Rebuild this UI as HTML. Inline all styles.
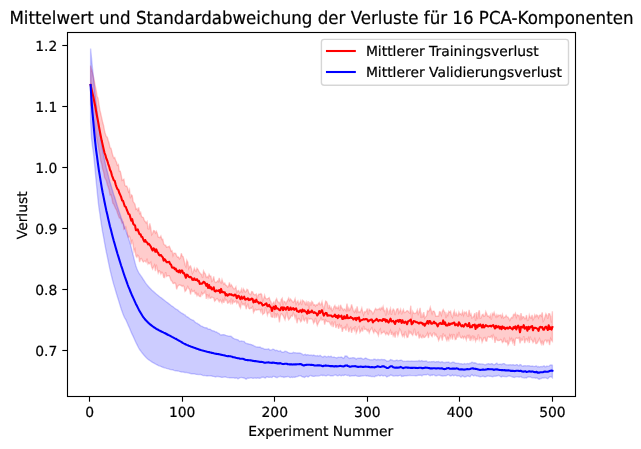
<!DOCTYPE html>
<html lang="de"><head><meta charset="utf-8"><title>Verluste PCA</title>
<style>html,body{margin:0;padding:0;background:#fff}svg{display:block}</style></head>
<body>
<svg width="641" height="449" viewBox="0 0 641 449">
<rect width="641" height="449" fill="#fff"/>
<clipPath id="c"><rect x="67.5" y="32.5" width="508.0" height="364.0"/></clipPath>
<g clip-path="url(#c)" stroke-linejoin="round">
<polygon points="90.6,65.6 91.5,69.3 92.4,72.2 93.4,77.0 94.3,80.9 95.2,85.6 96.1,89.9 97.1,96.4 98.0,98.1 98.9,104.1 99.9,110.1 100.8,113.9 101.7,117.9 102.6,122.0 103.6,125.6 104.5,130.4 105.4,134.1 106.3,136.6 107.3,137.3 108.2,140.5 109.1,143.2 110.0,147.7 111.0,148.2 111.9,151.8 112.8,155.6 113.7,157.9 114.7,157.5 115.6,160.2 116.5,162.1 117.4,165.3 118.4,164.5 119.3,171.1 120.2,171.1 121.1,174.7 122.1,180.3 123.0,179.7 123.9,179.3 124.8,185.2 125.8,186.2 126.7,186.0 127.6,188.0 128.5,191.7 129.5,189.6 130.4,198.3 131.3,194.7 132.2,195.5 133.2,201.7 134.1,202.9 135.0,204.2 135.9,209.3 136.9,208.6 137.8,210.4 138.7,207.4 139.6,213.4 140.6,212.3 141.5,216.5 142.4,217.1 143.3,217.6 144.3,220.3 145.2,221.5 146.1,222.9 147.1,221.6 148.0,228.6 148.9,228.8 149.8,223.4 150.8,228.2 151.7,234.7 152.6,233.5 153.5,230.5 154.5,230.8 155.4,232.9 156.3,231.3 157.2,233.3 158.2,237.0 159.1,237.3 160.0,237.7 160.9,236.0 161.9,239.5 162.8,239.3 163.7,243.9 164.6,244.9 165.6,245.2 166.5,247.1 167.4,246.9 168.3,246.8 169.3,246.2 170.2,248.3 171.1,251.0 172.0,250.7 173.0,255.5 173.9,253.0 174.8,253.3 175.7,253.4 176.7,255.9 177.6,257.2 178.5,257.0 179.4,258.8 180.4,257.9 181.3,253.3 182.2,256.1 183.1,256.7 184.1,260.5 185.0,264.8 185.9,266.8 186.8,260.2 187.8,262.1 188.7,268.5 189.6,266.5 190.5,265.9 191.5,268.7 192.4,273.5 193.3,271.8 194.3,268.3 195.2,270.5 196.1,271.3 197.0,268.3 198.0,269.6 198.9,271.4 199.8,272.7 200.7,273.9 201.7,274.5 202.6,278.0 203.5,271.0 204.4,272.7 205.4,274.1 206.3,277.5 207.2,276.6 208.1,277.8 209.1,274.4 210.0,276.1 210.9,276.2 211.8,281.3 212.8,280.4 213.7,276.5 214.6,281.4 215.5,282.5 216.5,282.3 217.4,280.8 218.3,281.7 219.2,278.0 220.2,281.9 221.1,283.0 222.0,279.5 222.9,282.4 223.9,284.2 224.8,283.1 225.7,285.4 226.6,285.5 227.6,287.1 228.5,286.5 229.4,282.4 230.3,286.1 231.3,284.7 232.2,286.3 233.1,287.9 234.0,289.0 235.0,288.5 235.9,286.9 236.8,292.5 237.8,290.9 238.7,290.5 239.6,292.9 240.5,291.8 241.5,289.1 242.4,293.2 243.3,288.8 244.2,290.2 245.2,292.0 246.1,291.6 247.0,289.3 247.9,289.9 248.9,293.2 249.8,294.0 250.7,294.6 251.6,291.5 252.6,291.8 253.5,294.1 254.4,294.7 255.3,294.7 256.3,293.9 257.2,298.3 258.1,295.3 259.0,294.0 260.0,294.4 260.9,293.5 261.8,294.8 262.7,301.0 263.7,298.8 264.6,295.3 265.5,298.3 266.4,298.9 267.4,298.8 268.3,298.3 269.2,297.6 270.1,300.5 271.1,302.0 272.0,306.2 272.9,303.2 273.8,301.9 274.8,304.7 275.7,300.2 276.6,298.7 277.5,301.1 278.5,302.7 279.4,302.4 280.3,304.7 281.2,299.6 282.2,298.3 283.1,305.4 284.0,301.2 285.0,301.7 285.9,304.0 286.8,301.8 287.7,300.1 288.7,298.0 289.6,300.6 290.5,299.0 291.4,300.1 292.4,301.5 293.3,302.4 294.2,301.1 295.1,298.7 296.1,304.0 297.0,302.2 297.9,300.9 298.8,304.3 299.8,302.9 300.7,300.8 301.6,305.1 302.5,300.2 303.5,301.0 304.4,302.0 305.3,304.3 306.2,302.0 307.2,305.5 308.1,301.1 309.0,309.1 309.9,301.8 310.9,305.7 311.8,301.4 312.7,302.4 313.6,305.1 314.6,304.6 315.5,306.1 316.4,304.7 317.3,305.1 318.3,303.7 319.2,302.6 320.1,304.7 321.0,304.7 322.0,301.7 322.9,305.9 323.8,309.1 324.7,305.3 325.7,301.1 326.6,301.8 327.5,304.0 328.4,309.0 329.4,304.9 330.3,308.7 331.2,307.5 332.2,310.8 333.1,309.3 334.0,306.9 334.9,305.5 335.9,308.3 336.8,307.2 337.7,308.4 338.6,306.4 339.6,310.9 340.5,304.8 341.4,307.3 342.3,308.5 343.3,310.3 344.2,308.9 345.1,309.4 346.0,310.8 347.0,303.5 347.9,311.4 348.8,308.1 349.7,310.2 350.7,308.3 351.6,304.4 352.5,307.8 353.4,311.0 354.4,312.3 355.3,309.6 356.2,311.7 357.1,306.4 358.1,312.2 359.0,311.6 359.9,312.4 360.8,310.9 361.8,308.0 362.7,312.1 363.6,314.8 364.5,311.7 365.5,312.2 366.4,310.9 367.3,308.5 368.2,314.6 369.2,309.3 370.1,310.3 371.0,310.8 371.9,311.8 372.9,313.9 373.8,312.5 374.7,310.0 375.6,308.5 376.6,309.7 377.5,309.5 378.4,309.4 379.4,308.3 380.3,309.7 381.2,307.7 382.1,309.0 383.1,306.5 384.0,310.8 384.9,310.5 385.8,315.7 386.8,307.6 387.7,310.8 388.6,314.7 389.5,310.8 390.5,308.4 391.4,314.9 392.3,311.1 393.2,309.1 394.2,310.4 395.1,315.0 396.0,311.6 396.9,309.0 397.9,308.6 398.8,313.1 399.7,311.2 400.6,309.2 401.6,314.3 402.5,311.5 403.4,309.5 404.3,312.6 405.3,312.4 406.2,311.5 407.1,310.6 408.0,311.1 409.0,312.4 409.9,313.2 410.8,305.7 411.7,319.0 412.7,311.4 413.6,312.9 414.5,313.5 415.4,313.4 416.4,312.6 417.3,310.1 418.2,314.1 419.1,312.2 420.1,307.9 421.0,318.0 421.9,314.2 422.9,317.6 423.8,312.0 424.7,318.2 425.6,316.9 426.6,315.8 427.5,310.8 428.4,311.5 429.3,310.5 430.3,307.2 431.2,310.5 432.1,313.7 433.0,311.1 434.0,311.1 434.9,312.9 435.8,316.3 436.7,316.3 437.7,316.0 438.6,316.1 439.5,311.7 440.4,312.0 441.4,315.2 442.3,311.4 443.2,309.6 444.1,311.4 445.1,312.3 446.0,318.1 446.9,313.7 447.8,315.5 448.8,311.4 449.7,312.3 450.6,311.3 451.5,315.7 452.5,317.4 453.4,313.2 454.3,310.9 455.2,316.1 456.2,313.1 457.1,315.6 458.0,315.8 458.9,312.2 459.9,314.4 460.8,313.8 461.7,315.0 462.6,311.5 463.6,315.2 464.5,312.2 465.4,312.9 466.3,312.0 467.3,315.7 468.2,316.2 469.1,309.8 470.1,315.3 471.0,314.0 471.9,317.9 472.8,317.4 473.8,316.1 474.7,313.2 475.6,320.9 476.5,312.1 477.5,319.2 478.4,312.8 479.3,310.3 480.2,318.3 481.2,317.8 482.1,314.9 483.0,314.3 483.9,316.3 484.9,315.8 485.8,311.7 486.7,313.7 487.6,316.1 488.6,315.9 489.5,317.2 490.4,314.9 491.3,319.7 492.3,313.4 493.2,314.6 494.1,312.4 495.0,315.2 496.0,317.0 496.9,314.7 497.8,316.5 498.7,315.1 499.7,315.5 500.6,315.0 501.5,317.2 502.4,314.4 503.4,318.1 504.3,317.3 505.2,316.9 506.1,315.4 507.1,316.9 508.0,317.2 508.9,318.7 509.8,320.5 510.8,318.4 511.7,317.3 512.6,317.8 513.5,314.4 514.5,314.8 515.4,313.2 516.3,317.3 517.3,314.8 518.2,315.5 519.1,315.4 520.0,320.5 521.0,313.0 521.9,318.5 522.8,316.8 523.7,316.8 524.7,318.7 525.6,318.6 526.5,315.0 527.4,320.5 528.4,320.0 529.3,315.0 530.2,317.5 531.1,318.1 532.1,315.0 533.0,319.8 533.9,318.2 534.8,314.9 535.8,316.7 536.7,314.9 537.6,315.6 538.5,317.8 539.5,315.3 540.4,315.0 541.3,316.2 542.2,312.3 543.2,321.2 544.1,319.7 545.0,316.6 545.9,313.8 546.9,315.6 547.8,318.7 548.7,313.7 549.6,313.7 550.6,316.5 551.5,322.6 552.4,311.3 552.4,341.3 551.5,340.3 550.6,338.6 549.6,345.1 548.7,340.4 547.8,340.2 546.9,342.2 545.9,340.0 545.0,340.3 544.1,341.7 543.2,345.3 542.2,340.7 541.3,344.0 540.4,341.8 539.5,338.6 538.5,340.5 537.6,342.3 536.7,343.6 535.8,343.5 534.8,338.8 533.9,341.1 533.0,342.5 532.1,340.3 531.1,339.6 530.2,336.7 529.3,343.0 528.4,338.1 527.4,340.9 526.5,338.9 525.6,339.2 524.7,343.2 523.7,336.1 522.8,339.9 521.9,340.5 521.0,338.7 520.0,343.3 519.1,337.7 518.2,338.5 517.3,338.3 516.3,337.8 515.4,339.2 514.5,345.8 513.5,340.2 512.6,342.5 511.7,338.7 510.8,340.6 509.8,338.5 508.9,343.5 508.0,344.9 507.1,341.1 506.1,342.2 505.2,341.7 504.3,337.7 503.4,341.7 502.4,342.5 501.5,340.2 500.6,339.4 499.7,340.4 498.7,340.5 497.8,340.5 496.9,339.9 496.0,336.9 495.0,342.9 494.1,337.0 493.2,335.1 492.3,338.3 491.3,335.9 490.4,337.3 489.5,337.3 488.6,336.6 487.6,337.3 486.7,341.2 485.8,340.9 484.9,337.5 483.9,337.9 483.0,339.9 482.1,342.1 481.2,338.1 480.2,337.5 479.3,339.8 478.4,334.3 477.5,339.4 476.5,338.9 475.6,341.2 474.7,337.3 473.8,339.3 472.8,335.5 471.9,339.5 471.0,337.1 470.1,341.0 469.1,334.7 468.2,338.4 467.3,334.9 466.3,339.9 465.4,337.4 464.5,336.4 463.6,338.4 462.6,336.4 461.7,338.1 460.8,337.7 459.9,336.6 458.9,331.9 458.0,337.6 457.1,334.9 456.2,339.2 455.2,339.6 454.3,335.0 453.4,334.5 452.5,339.7 451.5,334.0 450.6,337.8 449.7,335.4 448.8,340.1 447.8,337.8 446.9,340.6 446.0,338.5 445.1,335.4 444.1,336.3 443.2,333.4 442.3,340.7 441.4,336.1 440.4,336.1 439.5,338.4 438.6,340.5 437.7,337.4 436.7,336.3 435.8,334.2 434.9,335.5 434.0,332.8 433.0,333.6 432.1,336.6 431.2,335.4 430.3,333.2 429.3,333.5 428.4,338.2 427.5,333.2 426.6,335.1 425.6,336.2 424.7,337.4 423.8,337.5 422.9,335.5 421.9,337.9 421.0,337.1 420.1,335.1 419.1,338.5 418.2,332.4 417.3,333.3 416.4,335.4 415.4,334.8 414.5,328.6 413.6,332.6 412.7,335.3 411.7,334.1 410.8,332.1 409.9,333.4 409.0,331.4 408.0,337.0 407.1,337.5 406.2,334.8 405.3,331.3 404.3,336.6 403.4,334.6 402.5,336.3 401.6,334.0 400.6,330.4 399.7,329.0 398.8,332.9 397.9,335.8 396.9,332.3 396.0,332.1 395.1,337.6 394.2,333.7 393.2,335.8 392.3,331.8 391.4,334.9 390.5,330.5 389.5,332.7 388.6,334.9 387.7,334.0 386.8,332.7 385.8,334.6 384.9,333.0 384.0,331.3 383.1,332.5 382.1,332.8 381.2,333.8 380.3,329.1 379.4,330.6 378.4,335.5 377.5,333.3 376.6,332.2 375.6,331.4 374.7,329.9 373.8,332.9 372.9,331.1 371.9,327.8 371.0,329.2 370.1,330.6 369.2,332.9 368.2,329.8 367.3,331.0 366.4,329.4 365.5,329.1 364.5,329.4 363.6,325.8 362.7,331.5 361.8,328.7 360.8,331.1 359.9,332.4 359.0,326.8 358.1,328.0 357.1,330.9 356.2,333.0 355.3,326.1 354.4,330.4 353.4,328.3 352.5,329.2 351.6,332.8 350.7,327.5 349.7,328.9 348.8,332.1 347.9,327.8 347.0,323.8 346.0,330.6 345.1,327.0 344.2,328.3 343.3,327.9 342.3,331.8 341.4,326.0 340.5,327.1 339.6,324.9 338.6,328.8 337.7,324.8 336.8,325.3 335.9,327.9 334.9,322.1 334.0,323.1 333.1,327.2 332.2,321.3 331.2,325.3 330.3,323.8 329.4,322.1 328.4,321.4 327.5,321.7 326.6,321.2 325.7,320.1 324.7,324.7 323.8,319.7 322.9,319.5 322.0,320.3 321.0,317.8 320.1,320.1 319.2,321.3 318.3,323.0 317.3,325.4 316.4,322.3 315.5,317.9 314.6,321.7 313.6,323.3 312.7,320.0 311.8,319.1 310.9,318.6 309.9,319.2 309.0,318.6 308.1,318.3 307.2,323.6 306.2,318.2 305.3,318.4 304.4,320.9 303.5,319.7 302.5,314.9 301.6,320.8 300.7,321.7 299.8,319.7 298.8,318.4 297.9,319.0 297.0,323.3 296.1,314.6 295.1,318.3 294.2,314.7 293.3,312.9 292.4,316.2 291.4,315.5 290.5,317.4 289.6,318.7 288.7,319.8 287.7,317.0 286.8,311.6 285.9,315.9 285.0,319.8 284.0,317.4 283.1,315.7 282.2,314.2 281.2,313.7 280.3,316.2 279.4,322.3 278.5,315.6 277.5,314.1 276.6,317.7 275.7,313.1 274.8,318.2 273.8,310.6 272.9,317.3 272.0,317.2 271.1,316.6 270.1,309.6 269.2,312.8 268.3,312.4 267.4,315.1 266.4,310.8 265.5,307.1 264.6,313.0 263.7,313.5 262.7,314.4 261.8,308.7 260.9,312.0 260.0,309.7 259.0,309.3 258.1,309.9 257.2,309.8 256.3,310.1 255.3,309.3 254.4,310.9 253.5,312.5 252.6,306.8 251.6,308.2 250.7,308.0 249.8,308.9 248.9,308.4 247.9,304.3 247.0,305.9 246.1,309.2 245.2,303.3 244.2,305.2 243.3,304.0 242.4,304.7 241.5,302.2 240.5,308.0 239.6,306.5 238.7,303.5 237.8,301.9 236.8,303.4 235.9,300.9 235.0,301.7 234.0,302.4 233.1,300.6 232.2,304.4 231.3,298.3 230.3,303.1 229.4,301.3 228.5,302.8 227.6,303.3 226.6,300.1 225.7,300.6 224.8,298.2 223.9,302.9 222.9,299.8 222.0,302.9 221.1,301.1 220.2,299.9 219.2,301.8 218.3,300.3 217.4,298.6 216.5,298.8 215.5,300.4 214.6,301.2 213.7,297.9 212.8,297.6 211.8,297.1 210.9,298.2 210.0,298.3 209.1,295.2 208.1,297.8 207.2,294.1 206.3,298.8 205.4,290.6 204.4,293.1 203.5,293.2 202.6,294.6 201.7,292.7 200.7,296.6 199.8,296.5 198.9,295.9 198.0,293.8 197.0,295.7 196.1,292.9 195.2,293.8 194.3,290.7 193.3,291.6 192.4,291.6 191.5,289.9 190.5,294.5 189.6,289.5 188.7,288.5 187.8,286.6 186.8,288.6 185.9,290.6 185.0,291.4 184.1,286.7 183.1,285.6 182.2,286.5 181.3,285.5 180.4,285.3 179.4,284.8 178.5,285.5 177.6,286.3 176.7,289.4 175.7,283.8 174.8,282.7 173.9,283.6 173.0,283.4 172.0,281.1 171.1,280.8 170.2,278.0 169.3,275.8 168.3,275.8 167.4,275.9 166.5,276.4 165.6,272.2 164.6,277.6 163.7,277.4 162.8,273.4 161.9,272.2 160.9,274.0 160.0,271.5 159.1,270.9 158.2,273.0 157.2,268.9 156.3,264.7 155.4,271.1 154.5,265.1 153.5,267.0 152.6,269.1 151.7,267.1 150.8,262.3 149.8,263.7 148.9,263.0 148.0,264.0 147.1,258.7 146.1,262.3 145.2,261.1 144.3,261.1 143.3,262.0 142.4,260.7 141.5,258.6 140.6,258.8 139.6,262.1 138.7,256.2 137.8,255.2 136.9,257.3 135.9,255.8 135.0,249.3 134.1,251.3 133.2,245.6 132.2,239.7 131.3,244.3 130.4,239.1 129.5,236.5 128.5,237.3 127.6,235.1 126.7,230.7 125.8,227.1 124.8,228.8 123.9,229.3 123.0,222.5 122.1,223.3 121.1,220.2 120.2,218.2 119.3,218.0 118.4,215.5 117.4,212.9 116.5,209.7 115.6,208.7 114.7,206.6 113.7,204.2 112.8,203.2 111.9,198.3 111.0,194.8 110.0,195.1 109.1,189.9 108.2,187.0 107.3,184.7 106.3,180.6 105.4,179.1 104.5,177.3 103.6,172.0 102.6,169.1 101.7,164.0 100.8,161.3 99.9,155.2 98.9,150.1 98.0,144.5 97.1,140.0 96.1,135.2 95.2,128.6 94.3,122.7 93.4,119.3 92.4,113.4 91.5,109.2 90.6,105.0" fill="#f00" fill-opacity=".2" stroke="#f00" stroke-opacity=".2" stroke-width="1.39" stroke-linejoin="miter"/>
<polygon points="90.6,48.5 91.5,58.0 92.4,67.4 93.4,76.6 94.3,85.6 95.2,94.3 96.1,102.6 97.1,110.7 98.0,118.3 98.9,125.6 99.9,132.4 100.8,138.8 101.7,144.7 102.6,150.0 103.6,154.8 104.5,159.4 105.4,163.6 106.3,167.7 107.3,171.5 108.2,175.2 109.1,178.7 110.0,182.0 111.0,185.3 111.9,188.4 112.8,191.4 113.7,194.4 114.7,197.3 115.6,200.3 116.5,203.2 117.4,206.2 118.4,209.2 119.3,212.1 120.2,214.8 121.1,217.5 122.1,220.1 123.0,222.7 123.9,225.2 124.8,227.8 125.8,230.4 126.7,233.0 127.6,235.6 128.5,238.4 129.5,241.3 130.4,244.3 131.3,247.8 132.2,251.5 133.2,255.3 134.1,259.1 135.0,262.7 135.9,266.0 136.9,268.7 137.8,270.8 138.7,272.5 139.6,274.0 140.6,275.4 141.5,276.7 142.4,278.0 143.3,279.5 144.3,280.9 145.2,282.4 146.1,283.7 147.1,284.9 148.0,286.0 148.9,287.1 149.8,288.0 150.8,289.0 151.7,289.9 152.6,290.7 153.5,291.6 154.5,292.4 155.4,293.2 156.3,294.0 157.2,294.7 158.2,295.5 159.1,296.3 160.0,297.0 160.9,297.6 161.9,298.4 162.8,299.1 163.7,299.8 164.6,300.5 165.6,301.2 166.5,302.0 167.4,302.6 168.3,303.3 169.3,304.1 170.2,304.8 171.1,305.5 172.0,306.1 173.0,306.7 173.9,307.5 174.8,308.2 175.7,308.9 176.7,309.5 177.6,309.9 178.5,310.7 179.4,311.5 180.4,312.3 181.3,313.0 182.2,313.3 183.1,313.9 184.1,314.6 185.0,314.9 185.9,315.9 186.8,316.7 187.8,317.1 188.7,317.8 189.6,318.5 190.5,319.1 191.5,319.6 192.4,320.0 193.3,320.3 194.3,321.2 195.2,322.3 196.1,322.8 197.0,323.2 198.0,323.8 198.9,324.3 199.8,325.1 200.7,325.8 201.7,326.2 202.6,326.6 203.5,327.1 204.4,327.5 205.4,327.8 206.3,327.8 207.2,328.2 208.1,329.0 209.1,329.2 210.0,329.1 210.9,329.8 211.8,330.5 212.8,330.8 213.7,330.9 214.6,331.3 215.5,331.9 216.5,332.0 217.4,332.7 218.3,333.2 219.2,333.6 220.2,334.7 221.1,335.0 222.0,334.8 222.9,334.7 223.9,334.6 224.8,334.9 225.7,335.3 226.6,335.6 227.6,335.8 228.5,336.1 229.4,336.1 230.3,336.1 231.3,336.4 232.2,337.3 233.1,338.1 234.0,338.5 235.0,339.2 235.9,339.3 236.8,339.6 237.8,339.7 238.7,340.4 239.6,341.5 240.5,341.2 241.5,340.9 242.4,341.2 243.3,341.4 244.2,341.5 245.2,342.8 246.1,343.4 247.0,343.5 247.9,343.8 248.9,344.0 249.8,344.1 250.7,344.5 251.6,344.6 252.6,345.3 253.5,345.4 254.4,346.2 255.3,346.5 256.3,346.9 257.2,347.0 258.1,347.0 259.0,347.3 260.0,347.1 260.9,347.7 261.8,348.2 262.7,348.2 263.7,348.7 264.6,349.3 265.5,349.2 266.4,349.3 267.4,349.4 268.3,348.8 269.2,349.4 270.1,350.2 271.1,349.9 272.0,349.7 272.9,349.2 273.8,349.3 274.8,350.0 275.7,350.6 276.6,350.2 277.5,350.5 278.5,351.3 279.4,351.4 280.3,350.7 281.2,351.5 282.2,352.3 283.1,352.3 284.0,351.9 285.0,351.3 285.9,351.4 286.8,351.7 287.7,352.3 288.7,352.7 289.6,353.2 290.5,353.2 291.4,353.1 292.4,353.1 293.3,352.4 294.2,352.7 295.1,352.8 296.1,352.9 297.0,353.0 297.9,353.0 298.8,352.9 299.8,353.0 300.7,353.3 301.6,353.7 302.5,354.4 303.5,354.9 304.4,354.6 305.3,354.3 306.2,355.1 307.2,354.8 308.1,354.7 309.0,355.1 309.9,355.3 310.9,354.9 311.8,355.2 312.7,355.6 313.6,355.1 314.6,355.5 315.5,355.7 316.4,355.9 317.3,355.6 318.3,356.0 319.2,355.9 320.1,355.3 321.0,356.0 322.0,356.7 322.9,357.2 323.8,356.4 324.7,356.3 325.7,356.5 326.6,357.0 327.5,356.7 328.4,356.3 329.4,356.8 330.3,356.5 331.2,356.3 332.2,357.2 333.1,357.4 334.0,357.1 334.9,357.4 335.9,357.6 336.8,358.0 337.7,357.4 338.6,357.2 339.6,357.4 340.5,357.2 341.4,357.0 342.3,357.5 343.3,358.3 344.2,357.7 345.1,356.0 346.0,356.0 347.0,356.2 347.9,357.3 348.8,357.9 349.7,358.4 350.7,358.0 351.6,357.9 352.5,357.8 353.4,357.7 354.4,357.8 355.3,358.4 356.2,359.1 357.1,358.4 358.1,358.3 359.0,358.2 359.9,358.1 360.8,357.9 361.8,358.3 362.7,358.9 363.6,359.1 364.5,358.6 365.5,358.1 366.4,358.3 367.3,358.8 368.2,359.2 369.2,359.5 370.1,359.7 371.0,359.9 371.9,359.8 372.9,359.9 373.8,359.3 374.7,359.3 375.6,359.5 376.6,359.9 377.5,359.5 378.4,359.5 379.4,359.8 380.3,359.7 381.2,359.4 382.1,359.5 383.1,359.8 384.0,359.4 384.9,359.8 385.8,360.3 386.8,361.3 387.7,360.9 388.6,361.0 389.5,360.6 390.5,359.5 391.4,359.8 392.3,360.2 393.2,360.7 394.2,360.8 395.1,360.7 396.0,360.3 396.9,360.1 397.9,360.7 398.8,360.6 399.7,360.3 400.6,360.1 401.6,360.2 402.5,360.7 403.4,361.5 404.3,361.2 405.3,361.4 406.2,361.2 407.1,361.2 408.0,360.9 409.0,361.1 409.9,361.2 410.8,361.1 411.7,361.0 412.7,361.2 413.6,361.1 414.5,361.1 415.4,361.2 416.4,360.9 417.3,361.4 418.2,361.0 419.1,360.4 420.1,361.4 421.0,360.8 421.9,360.6 422.9,361.4 423.8,361.1 424.7,361.3 425.6,361.0 426.6,360.9 427.5,361.9 428.4,362.0 429.3,361.7 430.3,361.9 431.2,361.6 432.1,361.8 433.0,361.6 434.0,361.4 434.9,362.0 435.8,362.0 436.7,361.6 437.7,361.7 438.6,361.5 439.5,362.0 440.4,362.6 441.4,361.8 442.3,361.7 443.2,362.5 444.1,362.4 445.1,362.7 446.0,362.3 446.9,362.2 447.8,362.2 448.8,362.0 449.7,362.9 450.6,362.9 451.5,362.8 452.5,362.2 453.4,362.2 454.3,362.5 455.2,363.1 456.2,363.2 457.1,363.4 458.0,363.2 458.9,363.4 459.9,363.7 460.8,363.7 461.7,363.8 462.6,364.2 463.6,363.9 464.5,363.5 465.4,363.9 466.3,363.9 467.3,363.4 468.2,363.7 469.1,363.7 470.1,363.2 471.0,362.8 471.9,362.2 472.8,362.4 473.8,363.0 474.7,362.8 475.6,363.0 476.5,363.5 477.5,363.9 478.4,364.0 479.3,363.8 480.2,364.0 481.2,363.9 482.1,363.9 483.0,364.1 483.9,364.4 484.9,364.8 485.8,364.7 486.7,364.2 487.6,363.8 488.6,363.6 489.5,364.0 490.4,364.2 491.3,363.6 492.3,363.7 493.2,364.5 494.1,364.7 495.0,364.3 496.0,363.6 496.9,363.1 497.8,364.2 498.7,364.6 499.7,364.1 500.6,364.2 501.5,364.6 502.4,363.9 503.4,363.6 504.3,363.6 505.2,364.5 506.1,364.8 507.1,364.9 508.0,364.8 508.9,365.0 509.8,364.7 510.8,364.7 511.7,365.0 512.6,364.8 513.5,364.8 514.5,365.3 515.4,365.3 516.3,364.6 517.3,364.6 518.2,365.6 519.1,365.7 520.0,364.6 521.0,364.8 521.9,366.0 522.8,366.3 523.7,365.8 524.7,365.7 525.6,365.7 526.5,365.9 527.4,365.7 528.4,365.7 529.3,365.7 530.2,366.1 531.1,366.3 532.1,366.0 533.0,366.2 533.9,366.6 534.8,366.3 535.8,365.9 536.7,366.0 537.6,366.9 538.5,366.5 539.5,366.9 540.4,366.6 541.3,366.5 542.2,366.8 543.2,366.2 544.1,365.8 545.0,366.7 545.9,366.7 546.9,366.1 547.8,366.4 548.7,366.4 549.6,365.6 550.6,365.0 551.5,365.0 552.4,365.3 552.4,377.8 551.5,377.0 550.6,376.7 549.6,376.9 548.7,377.7 547.8,378.7 546.9,378.4 545.9,377.8 545.0,377.6 544.1,378.1 543.2,378.0 542.2,378.0 541.3,378.5 540.4,378.6 539.5,379.2 538.5,379.0 537.6,378.3 536.7,377.8 535.8,378.3 534.8,377.8 533.9,377.8 533.0,377.6 532.1,377.7 531.1,377.4 530.2,376.8 529.3,377.1 528.4,376.9 527.4,377.2 526.5,377.9 525.6,377.7 524.7,378.1 523.7,377.8 522.8,377.6 521.9,377.5 521.0,376.5 520.0,376.7 519.1,377.3 518.2,376.9 517.3,376.8 516.3,376.6 515.4,377.0 514.5,377.5 513.5,377.2 512.6,377.1 511.7,376.6 510.8,376.3 509.8,376.0 508.9,375.9 508.0,376.2 507.1,376.6 506.1,376.8 505.2,376.6 504.3,376.5 503.4,376.4 502.4,376.2 501.5,376.9 500.6,376.7 499.7,376.0 498.7,375.3 497.8,375.7 496.9,375.8 496.0,376.2 495.0,376.1 494.1,376.3 493.2,376.5 492.3,376.7 491.3,376.4 490.4,376.2 489.5,376.3 488.6,376.1 487.6,376.0 486.7,376.2 485.8,376.8 484.9,376.9 483.9,376.5 483.0,376.0 482.1,376.4 481.2,376.6 480.2,376.7 479.3,376.5 478.4,376.3 477.5,376.1 476.5,376.0 475.6,375.5 474.7,375.3 473.8,376.0 472.8,375.4 471.9,374.7 471.0,375.4 470.1,376.7 469.1,376.4 468.2,376.0 467.3,376.0 466.3,376.5 465.4,376.7 464.5,377.0 463.6,376.5 462.6,375.7 461.7,376.6 460.8,377.0 459.9,376.3 458.9,375.7 458.0,375.9 457.1,376.0 456.2,375.4 455.2,375.2 454.3,375.5 453.4,375.8 452.5,375.0 451.5,375.7 450.6,376.1 449.7,375.7 448.8,374.8 447.8,374.7 446.9,375.4 446.0,375.8 445.1,375.7 444.1,375.9 443.2,376.1 442.3,376.0 441.4,375.9 440.4,375.5 439.5,375.3 438.6,375.1 437.7,375.3 436.7,375.7 435.8,375.7 434.9,375.5 434.0,374.8 433.0,374.7 432.1,375.4 431.2,375.1 430.3,375.7 429.3,375.3 428.4,374.5 427.5,374.2 426.6,374.8 425.6,374.8 424.7,374.7 423.8,374.9 422.9,375.1 421.9,375.8 421.0,375.2 420.1,375.2 419.1,375.2 418.2,375.3 417.3,375.6 416.4,375.7 415.4,375.8 414.5,375.6 413.6,375.6 412.7,375.6 411.7,375.6 410.8,375.6 409.9,375.3 409.0,375.6 408.0,375.4 407.1,375.7 406.2,375.7 405.3,375.8 404.3,375.8 403.4,376.3 402.5,376.3 401.6,376.5 400.6,375.3 399.7,375.4 398.8,375.7 397.9,376.0 396.9,375.9 396.0,375.6 395.1,375.9 394.2,376.1 393.2,376.1 392.3,375.5 391.4,375.2 390.5,375.0 389.5,375.8 388.6,376.1 387.7,376.4 386.8,376.9 385.8,376.0 384.9,375.4 384.0,375.6 383.1,376.0 382.1,375.4 381.2,375.3 380.3,375.9 379.4,375.9 378.4,375.1 377.5,375.6 376.6,376.1 375.6,375.9 374.7,376.8 373.8,376.6 372.9,376.4 371.9,376.6 371.0,376.5 370.1,376.0 369.2,376.3 368.2,376.0 367.3,375.6 366.4,375.9 365.5,375.5 364.5,375.6 363.6,375.8 362.7,375.9 361.8,376.1 360.8,376.0 359.9,376.4 359.0,376.3 358.1,376.4 357.1,376.1 356.2,375.9 355.3,375.4 354.4,375.9 353.4,375.9 352.5,375.7 351.6,375.8 350.7,376.1 349.7,376.2 348.8,375.3 347.9,375.5 347.0,375.4 346.0,375.1 345.1,374.7 344.2,375.4 343.3,375.5 342.3,375.2 341.4,375.7 340.5,375.6 339.6,375.1 338.6,375.5 337.7,375.7 336.8,375.6 335.9,375.0 334.9,375.1 334.0,375.3 333.1,375.8 332.2,375.8 331.2,375.9 330.3,375.8 329.4,375.3 328.4,375.1 327.5,375.2 326.6,375.8 325.7,375.7 324.7,375.5 323.8,375.2 322.9,375.7 322.0,375.2 321.0,375.2 320.1,375.6 319.2,375.9 318.3,376.1 317.3,376.1 316.4,376.1 315.5,376.0 314.6,376.3 313.6,376.4 312.7,376.2 311.8,376.0 310.9,375.5 309.9,375.6 309.0,376.5 308.1,376.9 307.2,376.5 306.2,376.2 305.3,376.9 304.4,377.4 303.5,377.0 302.5,376.9 301.6,376.4 300.7,375.7 299.8,375.6 298.8,376.0 297.9,376.5 297.0,376.6 296.1,376.7 295.1,377.2 294.2,377.3 293.3,377.1 292.4,377.4 291.4,377.1 290.5,377.6 289.6,377.4 288.7,376.6 287.7,376.5 286.8,376.7 285.9,377.0 285.0,376.9 284.0,377.4 283.1,377.0 282.2,376.8 281.2,376.7 280.3,376.3 279.4,376.6 278.5,376.8 277.5,377.5 276.6,377.5 275.7,377.3 274.8,376.7 273.8,376.4 272.9,376.4 272.0,377.4 271.1,377.3 270.1,377.1 269.2,377.4 268.3,377.3 267.4,376.8 266.4,377.0 265.5,378.0 264.6,377.8 263.7,377.3 262.7,377.2 261.8,377.2 260.9,377.8 260.0,378.3 259.0,378.3 258.1,377.9 257.2,378.0 256.3,378.3 255.3,378.0 254.4,378.1 253.5,378.3 252.6,378.3 251.6,377.9 250.7,377.9 249.8,378.1 248.9,378.3 247.9,378.0 247.0,378.6 246.1,379.2 245.2,378.7 244.2,377.9 243.3,378.0 242.4,377.7 241.5,377.4 240.5,377.7 239.6,377.9 238.7,378.5 237.8,378.7 236.8,377.9 235.9,378.0 235.0,378.2 234.0,377.9 233.1,377.9 232.2,377.8 231.3,377.9 230.3,377.9 229.4,377.7 228.5,377.6 227.6,377.6 226.6,377.3 225.7,377.0 224.8,376.8 223.9,377.1 222.9,377.2 222.0,377.4 221.1,377.3 220.2,376.9 219.2,376.7 218.3,376.5 217.4,376.5 216.5,376.5 215.5,376.9 214.6,376.7 213.7,376.4 212.8,376.4 211.8,376.0 210.9,375.8 210.0,375.8 209.1,375.6 208.1,375.7 207.2,376.0 206.3,375.8 205.4,375.6 204.4,375.5 203.5,375.6 202.6,375.3 201.7,374.9 200.7,374.5 199.8,374.5 198.9,374.6 198.0,374.5 197.0,374.4 196.1,374.4 195.2,374.1 194.3,373.9 193.3,373.8 192.4,373.8 191.5,373.7 190.5,373.5 189.6,373.2 188.7,373.1 187.8,372.8 186.8,372.5 185.9,372.4 185.0,372.5 184.1,372.3 183.1,372.0 182.2,372.1 181.3,372.0 180.4,371.7 179.4,371.4 178.5,371.1 177.6,371.0 176.7,370.8 175.7,370.7 174.8,370.6 173.9,370.3 173.0,369.9 172.0,369.7 171.1,369.6 170.2,369.5 169.3,369.2 168.3,368.8 167.4,368.6 166.5,368.4 165.6,368.1 164.6,367.8 163.7,367.5 162.8,367.3 161.9,366.9 160.9,366.4 160.0,366.1 159.1,365.8 158.2,365.4 157.2,364.9 156.3,364.5 155.4,364.0 154.5,363.4 153.5,362.9 152.6,362.4 151.7,361.8 150.8,361.2 149.8,360.5 148.9,359.9 148.0,359.2 147.1,358.4 146.1,357.5 145.2,356.5 144.3,355.5 143.3,354.4 142.4,353.3 141.5,352.1 140.6,350.8 139.6,349.5 138.7,348.0 137.8,346.3 136.9,344.4 135.9,342.5 135.0,340.5 134.1,338.5 133.2,336.4 132.2,334.4 131.3,332.4 130.4,330.2 129.5,328.0 128.5,325.9 127.6,323.7 126.7,321.7 125.8,319.7 124.8,318.1 123.9,316.2 123.0,313.9 122.1,311.4 121.1,308.7 120.2,305.8 119.3,302.9 118.4,299.9 117.4,296.8 116.5,293.8 115.6,290.7 114.7,287.6 113.7,284.4 112.8,281.1 111.9,277.5 111.0,273.8 110.0,269.7 109.1,265.4 108.2,261.0 107.3,256.5 106.3,252.0 105.4,247.2 104.5,242.3 103.6,237.2 102.6,231.9 101.7,226.3 100.8,220.3 99.9,214.1 98.9,207.4 98.0,199.7 97.1,190.6 96.1,180.8 95.2,170.9 94.3,161.3 93.4,152.6 92.4,146.0 91.5,138.2 90.6,121.5" fill="#00f" fill-opacity=".2" stroke="#00f" stroke-opacity=".2" stroke-width="1.39" stroke-linejoin="miter"/>
<polyline points="90.6,84.9 91.5,88.9 92.4,92.9 93.4,97.0 94.3,101.7 95.2,106.0 96.1,111.2 97.1,116.7 98.0,121.1 98.9,126.2 99.9,131.6 100.8,136.2 101.7,140.6 102.6,144.4 103.6,148.9 104.5,152.8 105.4,155.1 106.3,158.5 107.3,160.7 108.2,163.8 109.1,166.3 110.0,169.8 111.0,171.8 111.9,175.3 112.8,177.7 113.7,180.1 114.7,180.8 115.6,184.3 116.5,186.8 117.4,189.1 118.4,190.0 119.3,193.1 120.2,194.8 121.1,196.9 122.1,200.5 123.0,200.7 123.9,203.5 124.8,206.4 125.8,206.9 126.7,209.5 127.6,211.7 128.5,214.0 129.5,214.4 130.4,217.6 131.3,220.8 132.2,219.2 133.2,223.8 134.1,224.8 135.0,225.3 135.9,230.1 136.9,230.1 137.8,229.4 138.7,232.2 139.6,234.2 140.6,234.3 141.5,236.8 142.4,237.1 143.3,239.5 144.3,241.6 145.2,240.0 146.1,242.0 147.1,242.4 148.0,244.3 148.9,243.8 149.8,245.1 150.8,246.5 151.7,248.8 152.6,250.5 153.5,248.3 154.5,249.3 155.4,251.8 156.3,249.4 157.2,251.8 158.2,253.0 159.1,255.1 160.0,255.5 160.9,255.0 161.9,256.3 162.8,257.4 163.7,260.6 164.6,259.2 165.6,260.5 166.5,262.1 167.4,262.0 168.3,262.2 169.3,261.8 170.2,264.1 171.1,264.7 172.0,267.5 173.0,267.8 173.9,267.6 174.8,269.1 175.7,268.6 176.7,271.2 177.6,270.8 178.5,272.1 179.4,270.3 180.4,272.7 181.3,270.6 182.2,270.5 183.1,273.2 184.1,273.1 185.0,275.3 185.9,277.8 186.8,274.6 187.8,275.2 188.7,276.8 189.6,277.2 190.5,276.9 191.5,277.7 192.4,279.7 193.3,279.9 194.3,278.3 195.2,279.9 196.1,280.1 197.0,279.2 198.0,281.1 198.9,280.9 199.8,283.9 200.7,283.5 201.7,283.8 202.6,283.2 203.5,281.8 204.4,282.2 205.4,283.6 206.3,285.9 207.2,283.9 208.1,287.9 209.1,285.1 210.0,288.2 210.9,287.0 211.8,289.4 212.8,289.3 213.7,287.3 214.6,291.1 215.5,291.4 216.5,290.4 217.4,290.8 218.3,291.0 219.2,290.1 220.2,292.8 221.1,288.9 222.0,292.2 222.9,291.8 223.9,292.5 224.8,292.4 225.7,295.4 226.6,294.1 227.6,295.6 228.5,295.0 229.4,294.0 230.3,294.6 231.3,294.3 232.2,295.3 233.1,295.3 234.0,295.7 235.0,294.5 235.9,295.3 236.8,298.3 237.8,296.1 238.7,295.8 239.6,297.6 240.5,299.1 241.5,296.5 242.4,298.7 243.3,298.2 244.2,296.7 245.2,299.8 246.1,299.1 247.0,299.3 247.9,298.3 248.9,300.1 249.8,299.3 250.7,299.7 251.6,298.5 252.6,298.9 253.5,302.4 254.4,300.7 255.3,301.9 256.3,299.6 257.2,301.8 258.1,302.1 259.0,303.5 260.0,302.6 260.9,302.8 261.8,303.7 262.7,305.4 263.7,305.1 264.6,304.7 265.5,303.8 266.4,303.3 267.4,306.1 268.3,306.2 269.2,304.9 270.1,306.7 271.1,307.6 272.0,310.9 272.9,307.9 273.8,306.6 274.8,309.2 275.7,305.9 276.6,308.4 277.5,308.3 278.5,309.1 279.4,310.2 280.3,310.2 281.2,307.4 282.2,307.2 283.1,310.1 284.0,307.4 285.0,308.7 285.9,309.7 286.8,307.4 287.7,307.0 288.7,310.0 289.6,309.5 290.5,307.5 291.4,309.6 292.4,308.9 293.3,308.1 294.2,309.9 295.1,308.7 296.1,308.4 297.0,311.1 297.9,311.2 298.8,312.0 299.8,310.5 300.7,310.4 301.6,312.1 302.5,309.6 303.5,311.2 304.4,310.3 305.3,311.6 306.2,311.9 307.2,313.7 308.1,310.2 309.0,312.9 309.9,312.1 310.9,312.2 311.8,310.5 312.7,311.8 313.6,313.0 314.6,312.2 315.5,313.0 316.4,313.4 317.3,315.5 318.3,314.0 319.2,311.0 320.1,313.0 321.0,311.5 322.0,310.2 322.9,313.2 323.8,315.6 324.7,314.2 325.7,312.9 326.6,313.1 327.5,315.8 328.4,315.2 329.4,315.5 330.3,315.5 331.2,315.5 332.2,316.7 333.1,316.4 334.0,316.0 334.9,314.7 335.9,317.0 336.8,315.8 337.7,318.1 338.6,315.3 339.6,316.8 340.5,316.6 341.4,315.6 342.3,319.0 343.3,318.8 344.2,316.2 345.1,318.3 346.0,318.2 347.0,315.1 347.9,318.2 348.8,318.0 349.7,318.0 350.7,316.9 351.6,317.9 352.5,318.0 353.4,319.5 354.4,318.4 355.3,318.0 356.2,320.2 357.1,317.9 358.1,318.6 359.0,317.4 359.9,321.4 360.8,320.4 361.8,320.0 362.7,319.6 363.6,319.1 364.5,319.5 365.5,319.1 366.4,319.1 367.3,319.5 368.2,321.4 369.2,320.7 370.1,320.0 371.0,319.6 371.9,319.5 372.9,322.4 373.8,321.1 374.7,320.7 375.6,320.1 376.6,318.9 377.5,320.1 378.4,321.2 379.4,320.0 380.3,320.1 381.2,320.5 382.1,320.9 383.1,319.0 384.0,320.0 384.9,319.2 385.8,321.6 386.8,319.9 387.7,321.6 388.6,322.6 389.5,320.8 390.5,318.6 391.4,321.4 392.3,321.3 393.2,320.8 394.2,322.4 395.1,324.0 396.0,320.7 396.9,321.2 397.9,320.1 398.8,321.8 399.7,319.9 400.6,320.1 401.6,322.9 402.5,320.3 403.4,322.4 404.3,322.9 405.3,321.5 406.2,322.3 407.1,324.2 408.0,321.5 409.0,320.9 409.9,320.3 410.8,319.5 411.7,324.2 412.7,323.3 413.6,321.1 414.5,321.2 415.4,321.6 416.4,322.3 417.3,322.2 418.2,323.0 419.1,323.5 420.1,322.5 421.0,322.9 421.9,322.9 422.9,324.4 423.8,323.7 424.7,325.7 425.6,324.1 426.6,323.1 427.5,321.0 428.4,323.8 429.3,321.0 430.3,321.3 431.2,323.7 432.1,323.7 433.0,323.1 434.0,321.6 434.9,323.3 435.8,323.1 436.7,324.2 437.7,326.3 438.6,324.2 439.5,323.4 440.4,322.9 441.4,323.9 442.3,324.0 443.2,320.4 444.1,324.1 445.1,322.4 446.0,325.5 446.9,325.4 447.8,325.4 448.8,323.4 449.7,324.8 450.6,324.0 451.5,323.5 452.5,323.6 453.4,322.7 454.3,322.6 455.2,325.3 456.2,324.2 457.1,324.7 458.0,325.7 458.9,322.2 459.9,323.8 460.8,325.4 461.7,326.3 462.6,325.2 463.6,326.6 464.5,325.3 465.4,323.8 466.3,324.3 467.3,326.2 468.2,326.0 469.1,323.0 470.1,327.4 471.0,326.4 471.9,327.2 472.8,325.0 473.8,325.3 474.7,324.5 475.6,329.0 476.5,325.6 477.5,327.3 478.4,324.8 479.3,326.0 480.2,324.4 481.2,325.8 482.1,327.5 483.0,324.8 483.9,327.5 484.9,326.5 485.8,325.2 486.7,325.8 487.6,326.2 488.6,326.4 489.5,325.9 490.4,325.7 491.3,326.5 492.3,325.6 493.2,325.1 494.1,326.8 495.0,328.5 496.0,325.7 496.9,327.4 497.8,326.6 498.7,326.3 499.7,328.5 500.6,326.8 501.5,329.2 502.4,326.4 503.4,327.8 504.3,327.3 505.2,329.1 506.1,328.2 507.1,327.5 508.0,328.6 508.9,328.1 509.8,326.9 510.8,328.2 511.7,328.7 512.6,329.4 513.5,327.2 514.5,327.8 515.4,326.3 516.3,329.4 517.3,327.0 518.2,325.6 519.1,327.5 520.0,332.3 521.0,326.7 521.9,327.1 522.8,327.5 523.7,325.1 524.7,328.8 525.6,327.5 526.5,327.1 527.4,330.8 528.4,326.8 529.3,328.9 530.2,327.1 531.1,326.8 532.1,326.0 533.0,330.3 533.9,327.7 534.8,328.0 535.8,327.9 536.7,328.4 537.6,328.7 538.5,330.9 539.5,327.6 540.4,326.8 541.3,327.4 542.2,327.0 543.2,329.6 544.1,329.7 545.0,327.4 545.9,326.7 546.9,328.0 547.8,330.0 548.7,325.2 549.6,329.1 550.6,327.4 551.5,329.6 552.4,327.2" fill="none" stroke="#f00" stroke-width="2.08" stroke-linecap="square"/>
<polyline points="90.6,85.0 91.5,99.8 92.4,111.9 93.4,122.9 94.3,132.9 95.2,141.9 96.1,150.0 97.1,157.2 98.0,164.0 98.9,170.3 99.9,176.3 100.8,181.9 101.7,187.3 102.6,192.3 103.6,197.1 104.5,201.7 105.4,206.1 106.3,210.4 107.3,214.6 108.2,218.7 109.1,222.6 110.0,226.4 111.0,230.1 111.9,233.7 112.8,237.2 113.7,240.6 114.7,244.0 115.6,247.2 116.5,250.4 117.4,253.5 118.4,256.6 119.3,259.6 120.2,262.5 121.1,265.5 122.1,268.3 123.0,271.2 123.9,274.0 124.8,276.7 125.8,279.4 126.7,281.9 127.6,284.5 128.5,286.9 129.5,289.2 130.4,291.5 131.3,293.7 132.2,295.8 133.2,297.9 134.1,299.9 135.0,301.9 135.9,303.9 136.9,305.8 137.8,307.6 138.7,309.4 139.6,311.1 140.6,312.7 141.5,314.2 142.4,315.7 143.3,317.1 144.3,318.4 145.2,319.5 146.1,320.6 147.1,321.5 148.0,322.4 148.9,323.3 149.8,324.1 150.8,324.9 151.7,325.6 152.6,326.3 153.5,327.0 154.5,327.6 155.4,328.2 156.3,328.8 157.2,329.3 158.2,329.8 159.1,330.3 160.0,330.8 160.9,331.2 161.9,331.7 162.8,332.1 163.7,332.6 164.6,333.0 165.6,333.5 166.5,334.0 167.4,334.5 168.3,335.0 169.3,335.4 170.2,335.9 171.1,336.4 172.0,336.9 173.0,337.4 173.9,337.9 174.8,338.4 175.7,338.8 176.7,339.3 177.6,339.8 178.5,340.3 179.4,340.9 180.4,341.4 181.3,342.0 182.2,342.5 183.1,343.1 184.1,343.6 185.0,344.0 185.9,344.5 186.8,344.9 187.8,345.3 188.7,345.7 189.6,346.0 190.5,346.4 191.5,346.7 192.4,347.1 193.3,347.4 194.3,347.8 195.2,348.1 196.1,348.4 197.0,348.7 198.0,349.1 198.9,349.4 199.8,349.7 200.7,350.0 201.7,350.3 202.6,350.5 203.5,350.8 204.4,351.0 205.4,351.3 206.3,351.5 207.2,351.8 208.1,352.0 209.1,352.1 210.0,352.4 210.9,352.6 211.8,352.9 212.8,353.0 213.7,353.3 214.6,353.5 215.5,353.8 216.5,353.9 217.4,354.0 218.3,354.1 219.2,354.3 220.2,354.5 221.1,354.8 222.0,354.9 222.9,355.1 223.9,355.2 224.8,355.5 225.7,355.8 226.6,356.0 227.6,356.2 228.5,356.1 229.4,356.2 230.3,356.3 231.3,356.6 232.2,356.8 233.1,357.2 234.0,357.3 235.0,357.5 235.9,357.8 236.8,358.0 237.8,358.2 238.7,358.3 239.6,358.6 240.5,358.7 241.5,358.8 242.4,358.8 243.3,358.9 244.2,359.2 245.2,359.7 246.1,359.9 247.0,360.1 247.9,360.1 248.9,360.2 249.8,360.3 250.7,360.4 251.6,360.5 252.6,360.9 253.5,360.9 254.4,361.1 255.3,361.1 256.3,361.3 257.2,361.4 258.1,361.6 259.0,361.8 260.0,361.9 260.9,362.0 261.8,361.9 262.7,362.1 263.7,362.4 264.6,362.8 265.5,362.8 266.4,362.5 267.4,362.5 268.3,362.4 269.2,362.5 270.1,362.7 271.1,362.8 272.0,362.9 272.9,362.6 273.8,362.8 274.8,362.9 275.7,363.1 276.6,363.1 277.5,363.4 278.5,363.4 279.4,363.4 280.3,363.1 281.2,363.5 282.2,363.9 283.1,364.1 284.0,363.9 285.0,363.7 285.9,363.8 286.8,363.8 287.7,364.2 288.7,364.3 289.6,364.4 290.5,364.4 291.4,364.3 292.4,364.6 293.3,364.4 294.2,364.5 295.1,364.3 296.1,364.4 297.0,364.2 297.9,364.3 298.8,364.3 299.8,364.1 300.7,364.0 301.6,364.4 302.5,365.1 303.5,365.4 304.4,365.4 305.3,365.0 306.2,364.9 307.2,364.8 308.1,364.8 309.0,364.7 309.9,364.7 310.9,364.9 311.8,364.9 312.7,365.0 313.6,365.1 314.6,365.5 315.5,365.5 316.4,365.5 317.3,365.4 318.3,365.4 319.2,365.4 320.1,365.4 321.0,365.6 322.0,365.9 322.9,366.2 323.8,365.8 324.7,365.7 325.7,365.4 326.6,365.8 327.5,365.8 328.4,365.8 329.4,366.0 330.3,366.1 331.2,366.0 332.2,366.1 333.1,366.3 334.0,366.4 334.9,366.4 335.9,366.1 336.8,366.4 337.7,366.2 338.6,366.2 339.6,366.0 340.5,365.9 341.4,366.1 342.3,366.2 343.3,366.4 344.2,366.3 345.1,365.6 346.0,365.6 347.0,365.4 347.9,366.1 348.8,366.3 349.7,366.7 350.7,366.6 351.6,366.4 352.5,366.3 353.4,366.3 354.4,366.3 355.3,366.1 356.2,366.5 357.1,366.6 358.1,367.0 359.0,366.7 359.9,366.7 360.8,366.6 361.8,366.7 362.7,366.9 363.6,366.9 364.5,366.7 365.5,366.5 366.4,366.7 367.3,366.8 368.2,366.9 369.2,366.9 370.1,367.2 371.0,367.3 371.9,367.0 372.9,367.3 373.8,367.3 374.7,367.4 375.6,367.0 376.6,366.7 377.5,366.3 378.4,366.5 379.4,366.8 380.3,367.0 381.2,366.8 382.1,366.4 383.1,366.4 384.0,366.4 384.9,366.9 385.8,367.2 386.8,368.0 387.7,368.0 388.6,367.7 389.5,367.0 390.5,366.3 391.4,366.3 392.3,366.4 393.2,367.3 394.2,367.5 395.1,367.7 396.0,367.6 396.9,367.6 397.9,367.8 398.8,367.6 399.7,367.4 400.6,366.9 401.6,367.4 402.5,367.8 403.4,368.2 404.3,367.7 405.3,367.5 406.2,367.4 407.1,367.6 408.0,367.6 409.0,367.8 409.9,367.7 410.8,367.9 411.7,367.9 412.7,367.9 413.6,367.8 414.5,367.7 415.4,367.9 416.4,367.9 417.3,368.1 418.2,367.9 419.1,367.7 420.1,367.8 421.0,367.7 421.9,368.2 422.9,368.1 423.8,368.0 424.7,367.7 425.6,367.6 426.6,367.8 427.5,367.7 428.4,368.0 429.3,368.1 430.3,368.4 431.2,368.2 432.1,368.4 433.0,368.2 434.0,368.3 434.9,368.3 435.8,368.5 436.7,368.4 437.7,368.2 438.6,368.2 439.5,368.4 440.4,368.5 441.4,368.4 442.3,368.4 443.2,368.9 444.1,369.1 445.1,369.0 446.0,368.7 446.9,368.3 447.8,368.2 448.8,368.1 449.7,368.8 450.6,368.8 451.5,368.8 452.5,368.5 453.4,368.6 454.3,368.6 455.2,368.7 456.2,368.4 457.1,368.5 458.0,368.7 458.9,369.3 459.9,369.5 460.8,369.4 461.7,369.3 462.6,369.4 463.6,369.6 464.5,369.6 465.4,369.4 466.3,369.2 467.3,369.1 468.2,369.2 469.1,369.2 470.1,369.0 471.0,368.6 471.9,368.4 472.8,368.2 473.8,368.7 474.7,368.8 475.6,368.9 476.5,369.0 477.5,369.2 478.4,369.6 479.3,369.8 480.2,370.0 481.2,369.8 482.1,369.7 483.0,369.4 483.9,369.8 484.9,369.8 485.8,369.6 486.7,369.4 487.6,369.1 488.6,369.1 489.5,369.3 490.4,369.2 491.3,369.2 492.3,369.3 493.2,369.6 494.1,369.9 495.0,369.5 496.0,369.4 496.9,369.2 497.8,369.6 498.7,369.7 499.7,370.0 500.6,370.0 501.5,370.1 502.4,370.0 503.4,370.2 504.3,370.1 505.2,370.4 506.1,370.4 507.1,370.5 508.0,370.4 508.9,370.4 509.8,370.6 510.8,370.9 511.7,370.9 512.6,370.9 513.5,370.9 514.5,371.1 515.4,371.0 516.3,370.7 517.3,370.7 518.2,370.8 519.1,371.1 520.0,370.9 521.0,370.8 521.9,371.4 522.8,371.6 523.7,371.6 524.7,371.4 525.6,371.3 526.5,372.0 527.4,371.8 528.4,371.5 529.3,371.2 530.2,371.4 531.1,371.8 532.1,371.4 533.0,371.6 533.9,372.0 534.8,372.1 535.8,372.2 536.7,371.8 537.6,372.6 538.5,372.5 539.5,372.6 540.4,372.3 541.3,372.3 542.2,372.2 543.2,372.1 544.1,371.8 545.0,371.5 545.9,371.7 546.9,371.7 547.8,371.8 548.7,371.4 549.6,371.1 550.6,370.8 551.5,370.6 552.4,370.8" fill="none" stroke="#00f" stroke-width="2.08" stroke-linecap="square"/>
</g>
<g stroke="#000" stroke-width="1.11">
<line x1="89.5" x2="89.5" y1="396.5" y2="401.70"/>
<line x1="182.5" x2="182.5" y1="396.5" y2="401.70"/>
<line x1="274.5" x2="274.5" y1="396.5" y2="401.70"/>
<line x1="367.5" x2="367.5" y1="396.5" y2="401.70"/>
<line x1="459.5" x2="459.5" y1="396.5" y2="401.70"/>
<line x1="552.5" x2="552.5" y1="396.5" y2="401.70"/>
<line x1="62.30" x2="67.5" y1="350.5" y2="350.5"/>
<line x1="62.30" x2="67.5" y1="289.5" y2="289.5"/>
<line x1="62.30" x2="67.5" y1="228.5" y2="228.5"/>
<line x1="62.30" x2="67.5" y1="167.5" y2="167.5"/>
<line x1="62.30" x2="67.5" y1="106.5" y2="106.5"/>
<line x1="62.30" x2="67.5" y1="45.5" y2="45.5"/>
</g>
<rect x="67.5" y="32.5" width="508.0" height="364.0" fill="none" stroke="#000" stroke-width="1.11" stroke-linejoin="miter"/>
<g font-family="'DejaVu Sans', 'Liberation Sans', sans-serif" font-size="13.89px" fill="#000" stroke="#000" stroke-width=".2" text-rendering="geometricPrecision">
<text x="89.67" y="417" text-anchor="middle">0</text>
<text x="182.22" y="417" text-anchor="middle">100</text>
<text x="274.77" y="417" text-anchor="middle">200</text>
<text x="367.32" y="417" text-anchor="middle">300</text>
<text x="459.87" y="417" text-anchor="middle">400</text>
<text x="552.42" y="417" text-anchor="middle">500</text>
<text x="57.3" y="355.80" text-anchor="end">0.7</text>
<text x="57.3" y="294.80" text-anchor="end">0.8</text>
<text x="57.3" y="233.80" text-anchor="end">0.9</text>
<text x="57.3" y="172.80" text-anchor="end">1.0</text>
<text x="57.3" y="111.80" text-anchor="end">1.1</text>
<text x="57.3" y="50.80" text-anchor="end">1.2</text>
<text x="320.8" y="436.2" text-anchor="middle">Experiment Nummer</text>
<text transform="translate(27.3,215.3) rotate(-90)" text-anchor="middle">Verlust</text>
<text transform="translate(321.5,24) scale(1,1.075)" text-anchor="middle" font-size="16.67px">Mittelwert und Standardabweichung der Verluste für 16 PCA-Komponenten</text>
</g>
<rect x="321.4" y="39.4" width="247.1" height="45.9" rx="2.78" fill="#fff" fill-opacity=".8" stroke="#ccc" stroke-opacity=".8" stroke-width="1.39"/>
<line x1="327" x2="354.8" y1="51" y2="51" stroke="#f00" stroke-width="2.08" stroke-linecap="square"/>
<line x1="327" x2="354.8" y1="72" y2="72" stroke="#00f" stroke-width="2.08" stroke-linecap="square"/>
<g font-family="'DejaVu Sans', 'Liberation Sans', sans-serif" font-size="13.89px" fill="#000" stroke="#000" stroke-width=".2" text-rendering="geometricPrecision">
<text x="365.9" y="55.8">Mittlerer Trainingsverlust</text>
<text x="365.9" y="76.8">Mittlerer Validierungsverlust</text>
</g>
</svg>
</body></html>
